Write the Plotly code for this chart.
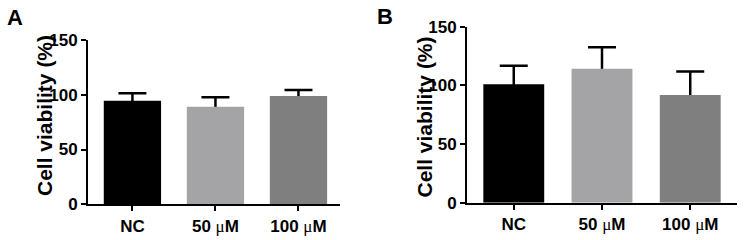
import plotly.graph_objects as go

categories = ["NC", "50 <span style='font-family:Liberation Serif;font-weight:normal'>μ</span>M",
              "100 <span style='font-family:Liberation Serif;font-weight:normal'>μ</span>M"]
values_a = [94.6, 89.1, 98.9]
errors_a = [6.8, 8.6, 5.5]
values_b = [100.9, 114.2, 91.8]
errors_b = [15.9, 18.3, 19.9]
bar_colors = ["#000000", "#A4A4A7", "#7F7F7F"]
y_ticks = [0, 50, 100, 150]

FONT = "Arial, Liberation Sans, sans-serif"
HIDE = 2.0  # lower end of the (upper-only) error bar is tucked inside the bar

fig = go.Figure()
for vals, errs, xa, ya in [(values_a, errors_a, "x", "y"), (values_b, errors_b, "x2", "y2")]:
    # error bars (drawn first, lower cap hidden beneath the bar drawn afterwards)
    fig.add_trace(go.Bar(
        x=categories, y=[v - HIDE for v in vals], xaxis=xa, yaxis=ya,
        marker=dict(color="rgba(0,0,0,0)", line=dict(width=0)),
        width=0.69,
        error_y=dict(type="data", array=[e + HIDE for e in errs], arrayminus=[0] * len(errs),
                     symmetric=False, color="black", thickness=2.5, width=14),
        showlegend=False, hoverinfo="skip",
    ))
    fig.add_trace(go.Bar(
        x=categories, y=vals, xaxis=xa, yaxis=ya,
        marker=dict(color=bar_colors, line=dict(width=0)),
        width=0.69, showlegend=False,
    ))

axis_common = dict(showline=True, linecolor="black", linewidth=2, ticks="outside",
                   ticklen=5, tickwidth=2, tickcolor="black", showgrid=False, zeroline=False,
                   automargin=False,
                   tickfont=dict(family=FONT, size=17, color="black", weight="bold"))

title_font = dict(family=FONT, size=21, color="black", weight="bold")
letter_font = dict(family=FONT, size=22, color="black", weight="bold")

fig.update_layout(
    template="none", barmode="overlay",
    width=750, height=240, margin=dict(l=0, r=0, t=0, b=0, pad=0, autoexpand=False),
    paper_bgcolor="white", plot_bgcolor="white",
    xaxis=dict(domain=[88 / 750, 340 / 750], range=[-0.535, 2.5], anchor="y", **axis_common),
    yaxis=dict(domain=[0.149, 0.833], range=[0, 150], tickvals=y_ticks, anchor="x", **axis_common),
    xaxis2=dict(domain=[467 / 750, 737 / 750], range=[-0.53, 2.53], anchor="y2", **axis_common),
    yaxis2=dict(domain=[0.155, 0.889], range=[0, 150], tickvals=y_ticks, anchor="x2", **axis_common),
    annotations=[
        dict(text="Cell viability (%)", textangle=-90, xref="paper", yref="paper",
             x=44 / 750, y=1 - 116 / 240, xanchor="center", yanchor="middle", showarrow=False,
             font=title_font),
        dict(text="Cell viability (%)", textangle=-90, xref="paper", yref="paper",
             x=423.5 / 750, y=1 - 117 / 240, xanchor="center", yanchor="middle", showarrow=False,
             font=title_font),
        dict(text="A", xref="paper", yref="paper", x=14.5 / 750, y=1 - 17.5 / 240,
             xanchor="center", yanchor="middle", showarrow=False, font=letter_font),
        dict(text="B", xref="paper", yref="paper", x=384.5 / 750, y=1 - 16.5 / 240,
             xanchor="center", yanchor="middle", showarrow=False, font=letter_font),
    ],
)

fig.write_html("out.html")
